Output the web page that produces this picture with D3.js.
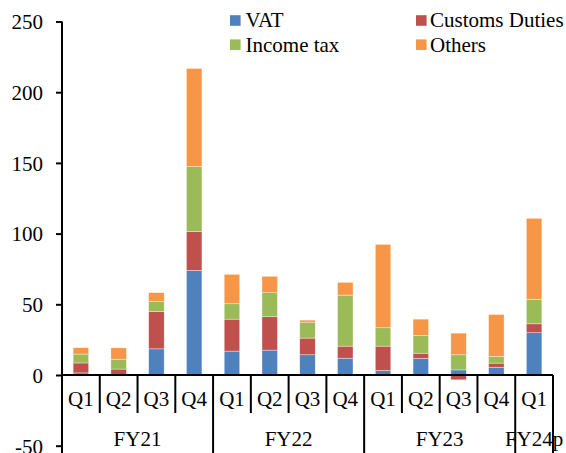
<!DOCTYPE html>
<html>
<head>
<meta charset="utf-8">
<script src="https://cdn.jsdelivr.net/npm/d3@7"></script>
<style>
  html, body { margin: 0; padding: 0; background: #fff; }
</style>
</head>
<body>
<svg id="chart" width="566" height="453"></svg>
<script>
// Quarterly revenue components, stacked by source
const quarters = ["Q1", "Q2", "Q3", "Q4", "Q1", "Q2", "Q3", "Q4", "Q1", "Q2", "Q3", "Q4", "Q1"];
const years = ["FY21", "FY22", "FY23", "FY24p"];
const quartersPerYear = [4, 4, 4, 1];
const seriesNames = ["VAT", "Customs Duties", "Income tax", "Others"];
const seriesColors = ["#4F81BD", "#C0504D", "#9BBB59", "#F79646"];

const vat     = [1.5, 0, 18.5, 74, 16.9, 17.6, 14.3, 11.9, 3.2, 11.7, 3.6, 5.5, 29.9];
const customs = [7, 4.2, 26.5, 27.4, 22.6, 23.6, 11.8, 8.5, 17.2, 3.7, -3.4, 2.9, 6.3];
const income  = [6.3, 7, 7, 46, 10.9, 17, 11.3, 36.1, 13, 12.6, 10.7, 4.7, 17.4];
const others  = [4.5, 8, 6.2, 69.4, 20.8, 11.6, 1.4, 9, 59, 11.5, 15.3, 29.7, 57.2];
const yTicks = [-50, 0, 50, 100, 150, 200, 250];

const FONT = "'Liberation Serif', Tinos, 'Times New Roman', 'DejaVu Serif', serif";
const FONT_SIZE = 21;

const rows = quarters.map((q, i) => ({
  i, q,
  "VAT": vat[i], "Customs Duties": customs[i], "Income tax": income[i], "Others": others[i]
}));

const svg = d3.select("#chart");
const W = 566, H = 453;

const x = d3.scaleBand().domain(d3.range(quarters.length)).range([62, 553]).padding(0);
const y = d3.scaleLinear().domain([-50, 250]).range([445.7, 21.5]);
const color = d3.scaleOrdinal().domain(seriesNames).range(seriesColors);

const stacked = d3.stack().keys(seriesNames).offset(d3.stackOffsetDiverging)(rows);
const barW = x.bandwidth() * 0.41;

// Stacked bars
svg.append("g").selectAll("g")
  .data(stacked)
  .join("g")
  .attr("fill", d => color(d.key))
  .selectAll("rect")
  .data(d => d)
  .join("rect")
  .attr("x", d => x(d.data.i) + (x.bandwidth() - barW) / 2)
  .attr("width", barW)
  .attr("y", d => y(Math.max(d[0], d[1])))
  .attr("height", d => Math.abs(y(d[0]) - y(d[1])))
  .attr("stroke", "#fff")
  .attr("stroke-opacity", 0.6)
  .attr("stroke-width", 0.6);

// Value axis
const yAxis = svg.append("g")
  .attr("transform", "translate(62,0)")
  .call(d3.axisLeft(y).tickValues(yTicks).tickFormat(d => String(d))
    .tickSize(6).tickPadding(13).tickSizeOuter(0));
yAxis.attr("font-family", FONT).attr("font-size", FONT_SIZE);
yAxis.select(".domain").remove();
yAxis.selectAll(".tick line").attr("stroke", "#000").attr("stroke-width", 2);
yAxis.selectAll(".tick text").attr("fill", "#000").attr("dy", "0.35em");
svg.append("line")
  .attr("x1", 62).attr("x2", 62)
  .attr("y1", y(250)).attr("y2", H)
  .attr("stroke", "#000").attr("stroke-width", 2);

// Category axis at zero
const y0 = y(0);
svg.append("line")
  .attr("x1", 62).attr("x2", x.range()[1])
  .attr("y1", y0).attr("y2", y0)
  .attr("stroke", "#000").attr("stroke-width", 2);

// Year boundaries (long) and quarter separators (short)
const yearStarts = [];
let acc = 0;
quartersPerYear.forEach(n => { yearStarts.push(acc); acc += n; });
const boundaries = d3.range(quarters.length + 1);
svg.append("g").selectAll("line")
  .data(boundaries)
  .join("line")
  .attr("x1", d => d < quarters.length ? x(d) : x.range()[1])
  .attr("x2", d => d < quarters.length ? x(d) : x.range()[1])
  .attr("y1", y0)
  .attr("y2", d => (yearStarts.includes(d) || d === quarters.length) ? H : 413)
  .attr("stroke", "#000").attr("stroke-width", 2);

const labels = svg.append("g").attr("font-family", FONT).attr("font-size", FONT_SIZE).attr("fill", "#000");

// Quarter labels
labels.append("g").selectAll("text")
  .data(rows)
  .join("text")
  .attr("x", d => x(d.i) + x.bandwidth() / 2)
  .attr("y", 405.5)
  .attr("text-anchor", "middle")
  .text(d => d.q);

// Fiscal year labels
labels.append("g").selectAll("text")
  .data(years)
  .join("text")
  .attr("x", (d, k) => x(yearStarts[k]) + quartersPerYear[k] * x.bandwidth() / 2)
  .attr("y", 446)
  .attr("text-anchor", "middle")
  .text(d => d);

// Legend
const legendPos = [[230, 20.5], [416, 20.5], [230, 44.7], [416, 44.7]];
const legend = labels.append("g").selectAll("g")
  .data(seriesNames)
  .join("g")
  .attr("transform", (d, k) => `translate(${legendPos[k][0]},${legendPos[k][1]})`);
legend.append("rect")
  .attr("x", 0).attr("y", -5.3).attr("width", 10.6).attr("height", 10.6)
  .attr("fill", d => color(d));
legend.append("text")
  .attr("x", d => d === "VAT" || d === "Income tax" ? 15.5 : 14)
  .attr("y", 0).attr("dy", "0.33em")
  .text(d => d);
</script>
</body>
</html>
